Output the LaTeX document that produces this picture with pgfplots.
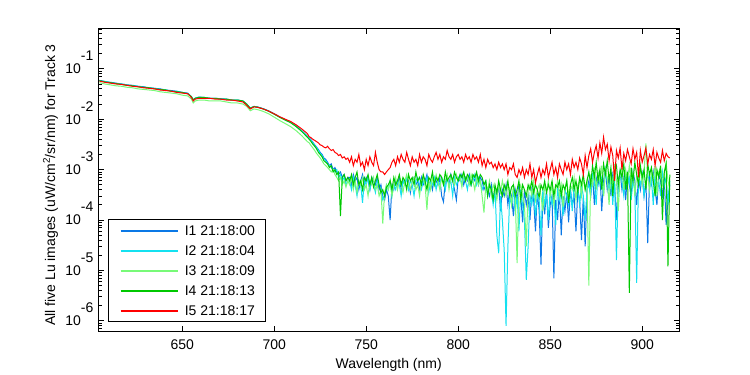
\documentclass[border=0pt]{standalone}
\usepackage{pgfplots}
\pgfplotsset{compat=1.18}
\usepackage{pgfplotstable}
\usepackage{fontspec}
\setmainfont{Liberation Sans}
\definecolor{cIa}{RGB}{10,120,230}
\definecolor{cIb}{RGB}{20,225,240}
\definecolor{cIc}{RGB}{120,250,120}
\definecolor{cId}{RGB}{0,200,0}
\definecolor{cIe}{RGB}{255,0,0}
\newcommand{\F}{\fontsize{14pt}{16pt}\selectfont}
\newcommand{\ex}[1]{\smash{\raisebox{13pt}{#1}}}
\pgfplotstableread{
x b c lg g r
605 .059 .058 .053 .058 .057
608 .056 .056 .050 .055 .054
611 .054 .053 .048 .053 .052
614 .052 .051 .046 .051 .050
617 .050 .050 .045 .049 .049
620 .048 .048 .043 .047 .047
623 .047 .046 .042 .046 .045
626 .045 .045 .040 .044 .044
629 .044 .043 .039 .043 .042
632 .042 .042 .038 .042 .041
635 .041 .041 .037 .040 .040
638 .040 .039 .035 .039 .038
641 .038 .038 .034 .038 .037
644 .037 .036 .033 .036 .036
647 .036 .035 .032 .035 .034
650 .034 .034 .030 .034 .033
653 .033 .032 .029 .032 .032
655 .028 .028 .025 .028 .027
656 .024 .024 .021 .024 .023
657 .026 .026 .023 .026 .025
659 .0275 .027 .024 .027 .026
662 .027 .027 .024 .027 .026
665 .026 .026 .023 .026 .026
668 .026 .026 .023 .026 .025
671 .0255 .025 .023 .025 .025
674 .025 .025 .022 .025 .024
677 .024 .024 .021 .024 .024
680 .024 .024 .021 .024 .023
683 .023 .023 .020 .023 .022
685 .020 .020 .018 .020 .019
687 .0166 .0165 .0147 .0165 .016
689 .0180 .0179 .016 .0178 .0176
691 .0175 .0174 .0155 .0173 .0172
694 .0162 .0161 .0143 .016 .016
697 .0146 .0145 .0128 .0144 .0145
700 .0128 .0127 .011 .0126 .0128
703 .0111 .011 .0094 .0109 .0112
706 .0098 .0097 .0082 .0096 .0100
709 .0087 .0086 .0071 .0085 .0090
712 .0073 .0072 .0059 .0071 .0077
715 .0059 .0058 .0047 .0057 .0064
718 .0046 .0045 .0036 .0044 .0052
719 43e-4 42e-4 34e-4 40e-4 45e-4
720 39e-4 38e-4 30e-4 36e-4 43e-4
721 35e-4 34e-4 27e-4 32e-4 40e-4
722 31e-4 30e-4 24e-4 29e-4 38e-4
723 28e-4 27e-4 21e-4 26e-4 36e-4
724 25e-4 24e-4 19e-4 22e-4 34e-4
725 22e-4 21e-4 17e-4 20e-4 31e-4
726 20e-4 19e-4 15e-4 18e-4 30e-4
727 17e-4 16e-4 13e-4 15e-4 28e-4
728 16e-4 15e-4 12e-4 14e-4 27e-4
729 14e-4 13e-4 11e-4 13e-4 29e-4
730 12e-4 12e-4 10e-4 11e-4 26e-4
731 13e-4 11e-4 9e-4 12e-4 24e-4
732 10e-4 10e-4 10e-4 9e-4 25e-4
733 11e-4 9e-4 8e-4 10e-4 22e-4
734 9e-4 10e-4 7e-4 8e-4 21e-4
735 8e-4 7e-4 6e-4 9e-4 19e-4
736 9e-4 8e-4 7e-4 1.2e-4 20e-4
737 7e-4 6e-4 5e-4 7e-4 17e-4
738 8e-4 7e-4 6e-4 8e-4 18e-4
739 6e-4 5e-4 4.5e-4 6e-4 16e-4
740 7e-4 6e-4 6e-4 7e-4 17e-4
741 7e-4 6e-4 5e-4 6e-4 14e-4
742 5e-4 4e-4 7e-4 8e-4 18e-4
743 8e-4 7e-4 4e-4 5e-4 12e-4
744 6e-4 5e-4 6e-4 7e-4 16e-4
745 7e-4 3e-4 3.5e-4 9e-4 14e-4
746 4e-4 6e-4 6e-4 5e-4 20e-4
747 6e-4 5e-4 5e-4 6e-4 12e-4
748 8e-4 2.2e-4 7e-4 4e-4 14e-4
749 5e-4 6e-4 4e-4 7e-4 10e-4
750 7e-4 5e-4 5e-4 6e-4 16e-4
751 6e-4 7e-4 3e-4 8e-4 12e-4
752 4e-4 4e-4 6e-4 5e-4 18e-4
753 7e-4 6e-4 5e-4 7e-4 14e-4
754 6e-4 5e-4 7e-4 4.5e-4 12e-4
755 5e-4 3.5e-4 4e-4 6e-4 22e-4
756 7e-4 6e-4 5e-4 8e-4 14e-4
757 4e-4 5e-4 3e-4 5e-4 10e-4
758 5e-4 4e-4 4e-4 3.5e-4 9e-4
759 3e-4 2.5e-4 0.85e-4 4e-4 9e-4
760 2.5e-4 3e-4 3.5e-4 3e-4 8e-4
761 4e-4 5e-4 5e-4 4.5e-4 9e-4
762 3e-4 4e-4 4e-4 5e-4 10e-4
763 1.0e-4 6e-4 6e-4 6e-4 11e-4
764 5e-4 3e-4 3e-4 4e-4 14e-4
765 4e-4 5e-4 5e-4 7e-4 16e-4
766 6e-4 4e-4 7e-4 5e-4 12e-4
767 5e-4 6e-4 4e-4 6e-4 18e-4
768 7e-4 5e-4 6e-4 8e-4 14e-4
769 4e-4 3e-4 5e-4 5e-4 20e-4
770 6e-4 6e-4 3.5e-4 7e-4 16e-4
771 5e-4 5e-4 6e-4 6e-4 14e-4
772 7e-4 7e-4 8e-4 4e-4 22e-4
773 6e-4 4e-4 5e-4 8e-4 16e-4
774 3.5e-4 6e-4 4e-4 6e-4 12e-4
775 6e-4 5e-4 6e-4 7e-4 18e-4
776 7e-4 3e-4 7e-4 5e-4 14e-4
777 5e-4 6e-4 4e-4 9e-4 16e-4
778 6e-4 7e-4 5e-4 6e-4 12e-4
779 4e-4 5e-4 3e-4 7e-4 20e-4
780 7e-4 4e-4 6e-4 5e-4 14e-4
781 5e-4 6e-4 7e-4 8e-4 18e-4
782 6e-4 5e-4 5e-4 6e-4 16e-4
783 8e-4 7e-4 1.6e-4 4e-4 12e-4
784 5e-4 3.5e-4 6e-4 7e-4 20e-4
785 6e-4 6e-4 4e-4 6e-4 16e-4
786 4e-4 5e-4 7e-4 9e-4 14e-4
787 7e-4 7e-4 5e-4 5e-4 18e-4
788 6e-4 4e-4 8e-4 7e-4 22e-4
789 5e-4 6e-4 6e-4 6e-4 16e-4
790 7e-4 5e-4 4e-4 8e-4 20e-4
791 3e-4 7e-4 7e-4 7e-4 14e-4
792 2.3e-4 6e-4 5e-4 5e-4 18e-4
793 6e-4 4e-4 6e-4 9e-4 16e-4
794 7e-4 7e-4 8e-4 6e-4 24e-4
795 5e-4 5e-4 4e-4 7e-4 18e-4
796 8e-4 6e-4 7e-4 8e-4 16e-4
797 6e-4 3e-4 6e-4 6e-4 20e-4
798 4e-4 7e-4 5e-4 9e-4 14e-4
799 2.5e-4 5e-4 8e-4 7e-4 18e-4
800 7e-4 6e-4 6e-4 6e-4 20e-4
801 6e-4 8e-4 7e-4 8e-4 16e-4
802 8e-4 5e-4 4.5e-4 7e-4 18e-4
803 5e-4 7e-4 8e-4 9e-4 14e-4
804 7e-4 6e-4 6e-4 6e-4 20e-4
805 6e-4 4e-4 7e-4 8e-4 16e-4
806 8e-4 7e-4 5e-4 7e-4 18e-4
807 5e-4 5e-4 8e-4 5e-4 14e-4
808 7e-4 6e-4 6e-4 8e-4 20e-4
809 6e-4 8e-4 4e-4 7e-4 16e-4
810 8e-4 5e-4 7e-4 9e-4 18e-4
811 5e-4 7e-4 5e-4 6e-4 14e-4
812 7e-4 6e-4 6e-4 8e-4 20e-4
813 6e-4 4e-4 3e-4 7e-4 12e-4
814 4e-4 5e-4 1.4e-4 5e-4 16e-4
815 5e-4 6e-4 5e-4 6e-4 11e-4
816 4e-4 3e-4 4e-4 3e-4 16e-4
817 3e-4 5e-4 6e-4 5e-4 13e-4
818 5e-4 4e-4 3e-4 4e-4 14e-4
819 2.5e-4 2e-4 5e-4 2.5e-4 11e-4
820 4e-4 4e-4 4e-4 5e-4 13e-4
821 3e-4 0.5e-4 2.5e-4 3.5e-4 10e-4
822 5e-4 0.22e-4 5e-4 6e-4 14e-4
823 1.5e-4 3e-4 3.5e-4 4e-4 11e-4
824 4e-4 1e-4 6e-4 3e-4 13e-4
825 3e-4 0.25e-4 4e-4 5e-4 10e-4
826 5e-4 0.008e-4 3e-4 4e-4 13e-4
827 2e-4 0.3e-4 5e-4 6e-4 8e-4
828 4e-4 3e-4 4e-4 3e-4 11e-4
829 3e-4 2e-4 2e-4 4.5e-4 10e-4
830 1.2e-4 4e-4 5e-4 5e-4 13e-4
831 4e-4 1.5e-4 3e-4 3e-4 8e-4
832 2.5e-4 3e-4 0.14e-4 4e-4 7e-4
833 5e-4 0.6e-4 4e-4 6e-4 10e-4
834 3e-4 4e-4 5e-4 2.5e-4 8e-4
835 0.9e-4 2e-4 3e-4 5e-4 11e-4
836 4e-4 1e-4 2e-4 4e-4 7e-4
837 2e-4 0.065e-4 0.3e-4 3e-4 10e-4
838 3e-4 0.3e-4 4e-4 5e-4 8e-4
839 1e-4 3e-4 5e-4 4e-4 13e-4
840 4e-4 2e-4 3e-4 6e-4 7e-4
841 2.5e-4 4e-4 6e-4 3.5e-4 10e-4
842 0.6e-4 1.2e-4 2.5e-4 5e-4 5.5e-4
843 3.5e-4 3e-4 4e-4 4e-4 8e-4
844 1.5e-4 2.5e-4 5e-4 2.8e-4 11e-4
845 0.13e-4 0.5e-4 3e-4 5e-4 7e-4
846 3e-4 4e-4 1.5e-4 4e-4 10e-4
847 1.3e-4 2e-4 5e-4 6e-4 8e-4
848 4e-4 3.5e-4 4e-4 3.5e-4 13e-4
849 0.7e-4 1e-4 6e-4 5e-4 7e-4
850 2e-4 4e-4 3e-4 4e-4 10e-4
851 3e-4 2e-4 5e-4 6e-4 14e-4
852 0.07e-4 3e-4 2e-4 3e-4 8e-4
853 2.5e-4 0.8e-4 4e-4 5e-4 11e-4
854 1e-4 4e-4 6e-4 4.5e-4 7e-4
855 4e-4 2.5e-4 3e-4 6e-4 13e-4
856 0.5e-4 3.5e-4 5e-4 3e-4 10e-4
857 3e-4 1.2e-4 1.8e-4 5e-4 8e-4
858 1.5e-4 4e-4 4e-4 4e-4 14e-4
859 3.5e-4 3e-4 6e-4 6e-4 10e-4
860 0.9e-4 2e-4 3e-4 2.2e-4 13e-4
861 4e-4 4e-4 5e-4 5e-4 8e-4
862 2e-4 1.5e-4 4e-4 7e-4 16e-4
863 3e-4 5e-4 7e-4 4e-4 11e-4
864 0.6e-4 3e-4 2.5e-4 6e-4 14e-4
865 4e-4 4e-4 5e-4 3.5e-4 10e-4
866 2.5e-4 2e-4 6e-4 7e-4 17e-4
867 0.4e-4 5e-4 3e-4 5e-4 13e-4
868 3e-4 3e-4 7e-4 8e-4 8e-4
869 0.3e-4 1e-4 4e-4 4e-4 19e-4
870 4e-4 4e-4 6e-4 6e-4 11e-4
871 6e-4 5e-4 0.05e-4 9e-4 19e-4
872 3e-4 3e-4 8e-4 5e-4 26e-4
873 8e-4 8e-4 5e-4 12e-4 14e-4
874 2e-4 6e-4 11e-4 7e-4 22e-4
875 7e-4 2e-4 4e-4 14e-4 30e-4
876 5e-4 9e-4 9e-4 6e-4 17e-4
877 9e-4 5e-4 6e-4 10e-4 34e-4
878 1.5e-4 7e-4 12e-4 4e-4 21e-4
879 6e-4 3e-4 3e-4 13e-4 44e-4
880 10e-4 10e-4 10e-4 8e-4 25e-4
881 4e-4 6e-4 7e-4 15e-4 32e-4
882 7e-4 4e-4 2e-4 6e-4 15e-4
883 3e-4 8e-4 9e-4 11e-4 28e-4
884 8e-4 2e-4 5e-4 3e-4 19e-4
885 5e-4 7e-4 13e-4 9e-4 6e-4
886 1e-4 0.16e-4 6e-4 12e-4 24e-4
887 6e-4 5e-4 1.5e-4 5e-4 17e-4
888 9e-4 9e-4 8e-4 10e-4 27e-4
889 4e-4 6e-4 11e-4 7e-4 10e-4
890 7e-4 3e-4 4e-4 13e-4 21e-4
891 2.5e-4 8e-4 10e-4 4e-4 15e-4
892 8e-4 5e-4 6e-4 9e-4 25e-4
893 5e-4 7e-4 12e-4 0.036e-4 18e-4
894 3e-4 2.5e-4 5e-4 11e-4 13e-4
895 9e-4 6e-4 9e-4 6e-4 26e-4
896 6e-4 4e-4 3e-4 14e-4 16e-4
897 2e-4 0.057e-4 8e-4 8e-4 22e-4
898 7e-4 7e-4 6e-4 5e-4 7e-4
899 4e-4 5e-4 11e-4 12e-4 24e-4
900 8e-4 8e-4 5e-4 7e-4 14e-4
901 3e-4 3e-4 9e-4 10e-4 19e-4
902 6e-4 6e-4 33e-4 4e-4 27e-4
903 0.35e-4 9e-4 7e-4 13e-4 13e-4
904 7e-4 4e-4 4e-4 8e-4 20e-4
905 5e-4 7e-4 10e-4 11e-4 16e-4
906 9e-4 2e-4 6e-4 6e-4 25e-4
907 4e-4 8e-4 12e-4 3e-4 12e-4
908 2e-4 5e-4 3e-4 10e-4 22e-4
909 8e-4 6e-4 9e-4 7e-4 17e-4
910 6e-4 3e-4 11e-4 12e-4 14e-4
911 3e-4 9e-4 5e-4 1e-4 24e-4
912 7e-4 5e-4 8e-4 9e-4 15e-4
913 0.8e-4 7e-4 14e-4 13e-4 21e-4
914 2.5e-4 2e-4 6e-4 0.12e-4 18e-4
915 5e-4 6e-4 4e-4 8e-4 17e-4
}\spectra
\begin{document}
\F
\begin{tikzpicture}
\useasboundingbox (0,0) rectangle (750pt,375pt);
\begin{axis}[
  at={(98.5pt,44pt)}, anchor=south west,
  scale only axis, width=580.5pt, height=302.5pt,
  ymode=log, xmin=604.5, xmax=920, ymin=6.3e-7, ymax=0.63,
  xtick={650,700,750,800,850,900},
  xticklabels={650,700,750,800,850,900},
  ytick={1e-6,1e-5,1e-4,1e-3,1e-2,1e-1},
  yticklabels={10\ex{-6},10\ex{-5},10\ex{-4},10\ex{-3},10\ex{-2},10\ex{-1}},
  minor ytick={7e-7,8e-7,9e-7,2e-6,3e-6,4e-6,5e-6,6e-6,7e-6,8e-6,9e-6,2e-5,3e-5,4e-5,5e-5,6e-5,7e-5,8e-5,9e-5,2e-4,3e-4,4e-4,5e-4,6e-4,7e-4,8e-4,9e-4,2e-3,3e-3,4e-3,5e-3,6e-3,7e-3,8e-3,9e-3,2e-2,3e-2,4e-2,5e-2,6e-2,7e-2,8e-2,9e-2,2e-1,3e-1,4e-1,5e-1,6e-1},
  tick align=inside, major tick length=5.5pt, minor tick length=3.3pt,
  every tick/.style={black, line width=0.8pt},
  axis line style={line width=1pt},
  tick label style={font=\F},
  xticklabel style={anchor=north, inner sep=0pt, yshift=-9pt},
  yticklabel style={anchor=east, inner sep=0pt, xshift=-5pt},
  xlabel={Wavelength (nm)},
  xlabel style={at={(axis description cs:0.5,-0.1233)}, anchor=base, font=\F},
  ylabel={All five Lu images (uW/cm\textsuperscript{2}/sr/nm) for Track 3},
  ylabel style={at={(axis description cs:-0.0749,0.4826)}, anchor=base, font=\F},
  legend style={at={(axis description cs:0.0169,0.0288)}, anchor=south west,
    draw=black, line width=0.8pt, fill=white, inner xsep=11pt, inner ysep=6pt,
    row sep=10pt, column sep=6.5pt, font=\F,
    nodes={inner sep=0pt, text height=10pt, text depth=0pt}},
  legend cell align=left,
  legend image code/.code={\draw[#1, line width=1.6pt] (0pt,0pt) -- (57pt,0pt);},
  every axis plot/.append style={line width=1pt, no marks},
]
\addplot[cIa] table[x=x,y=b]{\spectra};
\addlegendentry{I1 21:18:00}
\addplot[cIb] table[x=x,y=c]{\spectra};
\addlegendentry{I2 21:18:04}
\addplot[cIc] table[x=x,y=lg]{\spectra};
\addlegendentry{I3 21:18:09}
\addplot[cId] table[x=x,y=g]{\spectra};
\addlegendentry{I4 21:18:13}
\addplot[cIe] table[x=x,y=r]{\spectra};
\addlegendentry{I5 21:18:17}
\node[anchor=base, font=\F] at (axis description cs:0.524,1.0304) {TRACK 3 Depth =0.00 (m) DISK size =32 cm\ \ \ Int Time = 0.75 (sec)};
\end{axis}
\end{tikzpicture}
\end{document}
